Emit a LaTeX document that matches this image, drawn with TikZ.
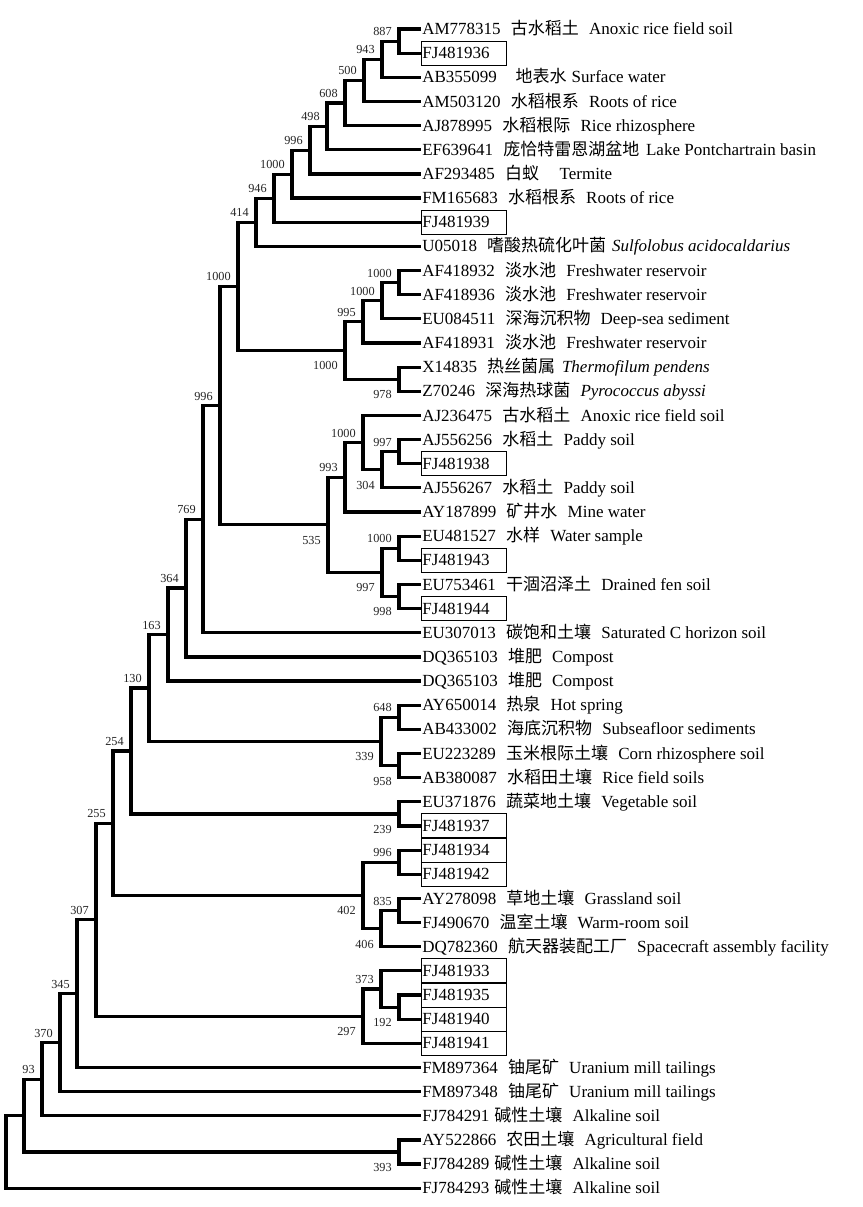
\documentclass[tikz,border=0pt]{standalone}
\usepackage{fontspec}
\setmainfont{Liberation Serif}
\newfontfamily\zhfont{Noto Sans CJK SC}
\newcommand{\zh}[1]{{\zhfont #1}}
\newcommand{\leafgap}{\hspace{0.6em}}

\begin{document}
\begin{tikzpicture}[x=0.75pt,y=-0.75pt]
        \tikzstyle{leaf} = [anchor=west, inner xsep=0.75pt, inner ysep=2.4pt, text height=10.8pt, text depth=2.4pt, font=\fontsize{12.75}{14}\selectfont];
        \tikzstyle{boxed} = [leaf, draw=black, line width=0.7pt, text width=62pt, align=left];
        \tikzstyle{branch} = [line width=2.4pt];
        \tikzstyle{boot} = [anchor=base east, inner sep=0pt, font=\fontsize{9.2}{10}\selectfont, text=black!85];
        \tikzstyle{bup} = [boot, xshift=-5.25pt, yshift=4.1pt];
        \tikzstyle{bdn} = [boot, xshift=-5.25pt, yshift=-14.6pt];

        \useasboundingbox (0,0) rectangle (863,1207);

        \node(L1) [leaf] at (421,29.0) {AM778315\leafgap\zh{古水稻土}\leafgap Anoxic rice field soil};
        \node(L2) [boxed] at (421,53.15) {FJ481936};
        \node(L3) [leaf] at (421,77.3) {AB355099\hspace{1.1em}\zh{地表水}\hspace{0.3em}Surface water};
        \node(L4) [leaf] at (421,101.45) {AM503120\leafgap\zh{水稻根系}\leafgap Roots of rice};
        \node(L5) [leaf] at (421,125.6) {AJ878995\leafgap\zh{水稻根际}\leafgap Rice rhizosphere};
        \node(L6) [leaf] at (421,149.75) {EF639641\leafgap\zh{庞恰特雷恩湖盆地}\hspace{0.4em}Lake Pontchartrain basin};
        \node(L7) [leaf] at (421,173.9) {AF293485\leafgap\zh{白蚁}\hspace{1.2em}Termite};
        \node(L8) [leaf] at (421,198.05) {FM165683\leafgap\zh{水稻根系}\leafgap Roots of rice};
        \node(L9) [boxed] at (421,222.2) {FJ481939};
        \node(L10) [leaf] at (421,246.35) {U05018\leafgap\zh{嗜酸热硫化叶菌}\hspace{0.35em}\textit{Sulfolobus acidocaldarius}};
        \node(L11) [leaf] at (421,270.5) {AF418932\leafgap\zh{淡水池}\leafgap Freshwater reservoir};
        \node(L12) [leaf] at (421,294.65) {AF418936\leafgap\zh{淡水池}\leafgap Freshwater reservoir};
        \node(L13) [leaf] at (421,318.8) {EU084511\leafgap\zh{深海沉积物}\leafgap Deep-sea sediment};
        \node(L14) [leaf] at (421,342.95) {AF418931\leafgap\zh{淡水池}\leafgap Freshwater reservoir};
        \node(L15) [leaf] at (421,367.1) {X14835\leafgap\zh{热丝菌属}\hspace{0.4em}\textit{Thermofilum pendens}};
        \node(L16) [leaf] at (421,391.25) {Z70246\leafgap\zh{深海热球菌}\leafgap\textit{Pyrococcus abyssi}};
        \node(L17) [leaf] at (421,415.4) {AJ236475\leafgap\zh{古水稻土}\leafgap Anoxic rice field soil};
        \node(L18) [leaf] at (421,439.55) {AJ556256\leafgap\zh{水稻土}\leafgap Paddy soil};
        \node(L19) [boxed] at (421,463.7) {FJ481938};
        \node(L20) [leaf] at (421,487.85) {AJ556267\leafgap\zh{水稻土}\leafgap Paddy soil};
        \node(L21) [leaf] at (421,512.0) {AY187899\leafgap\zh{矿井水}\leafgap Mine water};
        \node(L22) [leaf] at (421,536.15) {EU481527\leafgap\zh{水样}\leafgap Water sample};
        \node(L23) [boxed] at (421,560.3) {FJ481943};
        \node(L24) [leaf] at (421,584.45) {EU753461\leafgap\zh{干涸沼泽土}\leafgap Drained fen soil};
        \node(L25) [boxed] at (421,608.6) {FJ481944};
        \node(L26) [leaf] at (421,632.75) {EU307013\leafgap\zh{碳饱和土壤}\leafgap Saturated C horizon soil};
        \node(L27) [leaf] at (421,656.9) {DQ365103\leafgap\zh{堆肥}\leafgap Compost};
        \node(L28) [leaf] at (421,681.05) {DQ365103\leafgap\zh{堆肥}\leafgap Compost};
        \node(L29) [leaf] at (421,705.2) {AY650014\leafgap\zh{热泉}\leafgap Hot spring};
        \node(L30) [leaf] at (421,729.35) {AB433002\leafgap\zh{海底沉积物}\leafgap Subseafloor sediments};
        \node(L31) [leaf] at (421,753.5) {EU223289\leafgap\zh{玉米根际土壤}\leafgap Corn rhizosphere soil};
        \node(L32) [leaf] at (421,777.65) {AB380087\leafgap\zh{水稻田土壤}\leafgap Rice field soils};
        \node(L33) [leaf] at (421,801.8) {EU371876\leafgap\zh{蔬菜地土壤}\leafgap Vegetable soil};
        \node(L34) [boxed] at (421,825.95) {FJ481937};
        \node(L35) [boxed] at (421,850.1) {FJ481934};
        \node(L36) [boxed] at (421,874.25) {FJ481942};
        \node(L37) [leaf] at (421,898.4) {AY278098\leafgap\zh{草地土壤}\leafgap Grassland soil};
        \node(L38) [leaf] at (421,922.55) {FJ490670\leafgap\zh{温室土壤}\leafgap Warm-room soil};
        \node(L39) [leaf] at (421,946.7) {DQ782360\leafgap\zh{航天器装配工厂}\leafgap Spacecraft assembly facility};
        \node(L40) [boxed] at (421,970.85) {FJ481933};
        \node(L41) [boxed] at (421,995.0) {FJ481935};
        \node(L42) [boxed] at (421,1019.15) {FJ481940};
        \node(L43) [boxed] at (421,1043.3) {FJ481941};
        \node(L44) [leaf] at (421,1067.45) {FM897364\leafgap\zh{铀尾矿}\leafgap Uranium mill tailings};
        \node(L45) [leaf] at (421,1091.6) {FM897348\leafgap\zh{铀尾矿}\leafgap Uranium mill tailings};
        \node(L46) [leaf] at (421,1115.75) {FJ784291\hspace{0.3em}\zh{碱性土壤}\leafgap Alkaline soil};
        \node(L47) [leaf] at (421,1139.9) {AY522866\leafgap\zh{农田土壤}\leafgap Agricultural field};
        \node(L48) [leaf] at (421,1164.05) {FJ784289\hspace{0.3em}\zh{碱性土壤}\leafgap Alkaline soil};
        \node(L49) [leaf] at (421,1188.2) {FJ784293\hspace{0.3em}\zh{碱性土壤}\leafgap Alkaline soil};

        \coordinate (b887) at (399,41.1);
        \coordinate (b943) at (382,59.2);
        \coordinate (b500) at (364,80.3);
        \coordinate (b608) at (345,103.0);
        \coordinate (b498) at (327,126.4);
        \coordinate (b996a) at (310,150.1);
        \coordinate (b1000a) at (292,174.1);
        \coordinate (b946) at (274,198.2);
        \coordinate (b414) at (256,222.3);
        \coordinate (b1000b) at (399,282.6);
        \coordinate (b1000c) at (382,300.7);
        \coordinate (b995) at (363,321.8);
        \coordinate (b978) at (399,379.2);
        \coordinate (b1000d) at (345,350.5);
        \coordinate (b1000e) at (238,286.4);
        \coordinate (b997a) at (399,451.6);
        \coordinate (b304) at (382,469.7);
        \coordinate (b1000f) at (363,442.6);
        \coordinate (b993) at (345,477.3);
        \coordinate (b1000g) at (399,548.2);
        \coordinate (b998) at (399,596.5);
        \coordinate (b997b) at (382,572.4);
        \coordinate (b535) at (328,524.8);
        \coordinate (b996b) at (220,405.6);
        \coordinate (b769) at (203,519.2);
        \coordinate (b364) at (186,588.0);
        \coordinate (b163) at (168,634.6);
        \coordinate (b648) at (399,717.3);
        \coordinate (b958) at (399,765.6);
        \coordinate (b339) at (381,741.4);
        \coordinate (b130) at (149,688.0);
        \coordinate (b239) at (399,813.9);
        \coordinate (b254) at (131,750.9);
        \coordinate (b996c) at (399,862.2);
        \coordinate (b835) at (399,910.5);
        \coordinate (b406) at (381,928.6);
        \coordinate (b402) at (363,895.4);
        \coordinate (b255) at (113,823.2);
        \coordinate (b192) at (399,1007.1);
        \coordinate (b373) at (381,989.0);
        \coordinate (b297) at (363,1016.1);
        \coordinate (b307) at (96,919.7);
        \coordinate (b345) at (77,993.6);
        \coordinate (b370) at (60,1042.6);
        \coordinate (b93) at (42,1079.2);
        \coordinate (b393) at (399,1152.0);
        \coordinate (bx) at (24,1115.6);
        \coordinate (root) at (6,1151.9);

        \draw[branch] (L1.west) -| (b887) |- (L2.west);
        \draw[branch] (b887) -| (b943) |- (L3.west);
        \draw[branch] (b943) -| (b500) |- (L4.west);
        \draw[branch] (b500) -| (b608) |- (L5.west);
        \draw[branch] (b608) -| (b498) |- (L6.west);
        \draw[branch] (b498) -| (b996a) |- (L7.west);
        \draw[branch] (b996a) -| (b1000a) |- (L8.west);
        \draw[branch] (b1000a) -| (b946) |- (L9.west);
        \draw[branch] (b946) -| (b414) |- (L10.west);
        \draw[branch] (L11.west) -| (b1000b) |- (L12.west);
        \draw[branch] (b1000b) -| (b1000c) |- (L13.west);
        \draw[branch] (b1000c) -| (b995) |- (L14.west);
        \draw[branch] (L15.west) -| (b978) |- (L16.west);
        \draw[branch] (b995) -| (b1000d) |- (b978);
        \draw[branch] (b414) -| (b1000e) |- (b1000d);
        \draw[branch] (L18.west) -| (b997a) |- (L19.west);
        \draw[branch] (b997a) -| (b304) |- (L20.west);
        \draw[branch] (L17.west) -| (b1000f) |- (b304);
        \draw[branch] (b1000f) -| (b993) |- (L21.west);
        \draw[branch] (L22.west) -| (b1000g) |- (L23.west);
        \draw[branch] (L24.west) -| (b998) |- (L25.west);
        \draw[branch] (b1000g) -| (b997b) |- (b998);
        \draw[branch] (b993) -| (b535) |- (b997b);
        \draw[branch] (b1000e) -| (b996b) |- (b535);
        \draw[branch] (b996b) -| (b769) |- (L26.west);
        \draw[branch] (b769) -| (b364) |- (L27.west);
        \draw[branch] (b364) -| (b163) |- (L28.west);
        \draw[branch] (L29.west) -| (b648) |- (L30.west);
        \draw[branch] (L31.west) -| (b958) |- (L32.west);
        \draw[branch] (b648) -| (b339) |- (b958);
        \draw[branch] (b163) -| (b130) |- (b339);
        \draw[branch] (L33.west) -| (b239) |- (L34.west);
        \draw[branch] (b130) -| (b254) |- (b239);
        \draw[branch] (L35.west) -| (b996c) |- (L36.west);
        \draw[branch] (L37.west) -| (b835) |- (L38.west);
        \draw[branch] (b835) -| (b406) |- (L39.west);
        \draw[branch] (b996c) -| (b402) |- (b406);
        \draw[branch] (b254) -| (b255) |- (b402);
        \draw[branch] (L41.west) -| (b192) |- (L42.west);
        \draw[branch] (L40.west) -| (b373) |- (b192);
        \draw[branch] (b373) -| (b297) |- (L43.west);
        \draw[branch] (b255) -| (b307) |- (b297);
        \draw[branch] (b307) -| (b345) |- (L44.west);
        \draw[branch] (b345) -| (b370) |- (L45.west);
        \draw[branch] (b370) -| (b93) |- (L46.west);
        \draw[branch] (L47.west) -| (b393) |- (L48.west);
        \draw[branch] (b93) -| (bx) |- (b393);
        \draw[branch] (bx) -| (root) |- (L49.west);

        \node(t887) [bup] at (b887) {887};
        \node(t943) [bup] at (b943) {943};
        \node(t500) [bup] at (b500) {500};
        \node(t608) [bup] at (b608) {608};
        \node(t498) [bup] at (b498) {498};
        \node(t996a) [bup] at (b996a) {996};
        \node(t1000a) [bup] at (b1000a) {1000};
        \node(t946) [bup] at (b946) {946};
        \node(t414) [bup] at (b414) {414};
        \node(t1000b) [bup] at (b1000b) {1000};
        \node(t1000c) [bup] at (b1000c) {1000};
        \node(t995) [bup] at (b995) {995};
        \node(t978) [bdn] at (b978) {978};
        \node(t1000d) [bdn] at (b1000d) {1000};
        \node(t1000e) [bup] at (b1000e) {1000};
        \node(t997a) [bup] at (b997a) {997};
        \node(t304) [bdn] at (b304) {304};
        \node(t1000f) [bup] at (b1000f) {1000};
        \node(t993) [bup] at (b993) {993};
        \node(t1000g) [bup] at (b1000g) {1000};
        \node(t998) [bdn] at (b998) {998};
        \node(t997b) [bdn] at (b997b) {997};
        \node(t535) [bdn] at (b535) {535};
        \node(t996b) [bup] at (b996b) {996};
        \node(t769) [bup] at (b769) {769};
        \node(t364) [bup] at (b364) {364};
        \node(t163) [bup] at (b163) {163};
        \node(t648) [bup] at (b648) {648};
        \node(t958) [bdn] at (b958) {958};
        \node(t339) [bdn] at (b339) {339};
        \node(t130) [bup] at (b130) {130};
        \node(t239) [bdn] at (b239) {239};
        \node(t254) [bup] at (b254) {254};
        \node(t996c) [bup] at (b996c) {996};
        \node(t835) [bup] at (b835) {835};
        \node(t406) [bdn] at (b406) {406};
        \node(t402) [bdn] at (b402) {402};
        \node(t255) [bup] at (b255) {255};
        \node(t192) [bdn] at (b192) {192};
        \node(t373) [bup] at (b373) {373};
        \node(t297) [bdn] at (b297) {297};
        \node(t307) [bup] at (b307) {307};
        \node(t345) [bup] at (b345) {345};
        \node(t370) [bup] at (b370) {370};
        \node(t93) [bup] at (b93) {93};
        \node(t393) [bdn] at (b393) {393};

    \end{tikzpicture}
\end{document}
